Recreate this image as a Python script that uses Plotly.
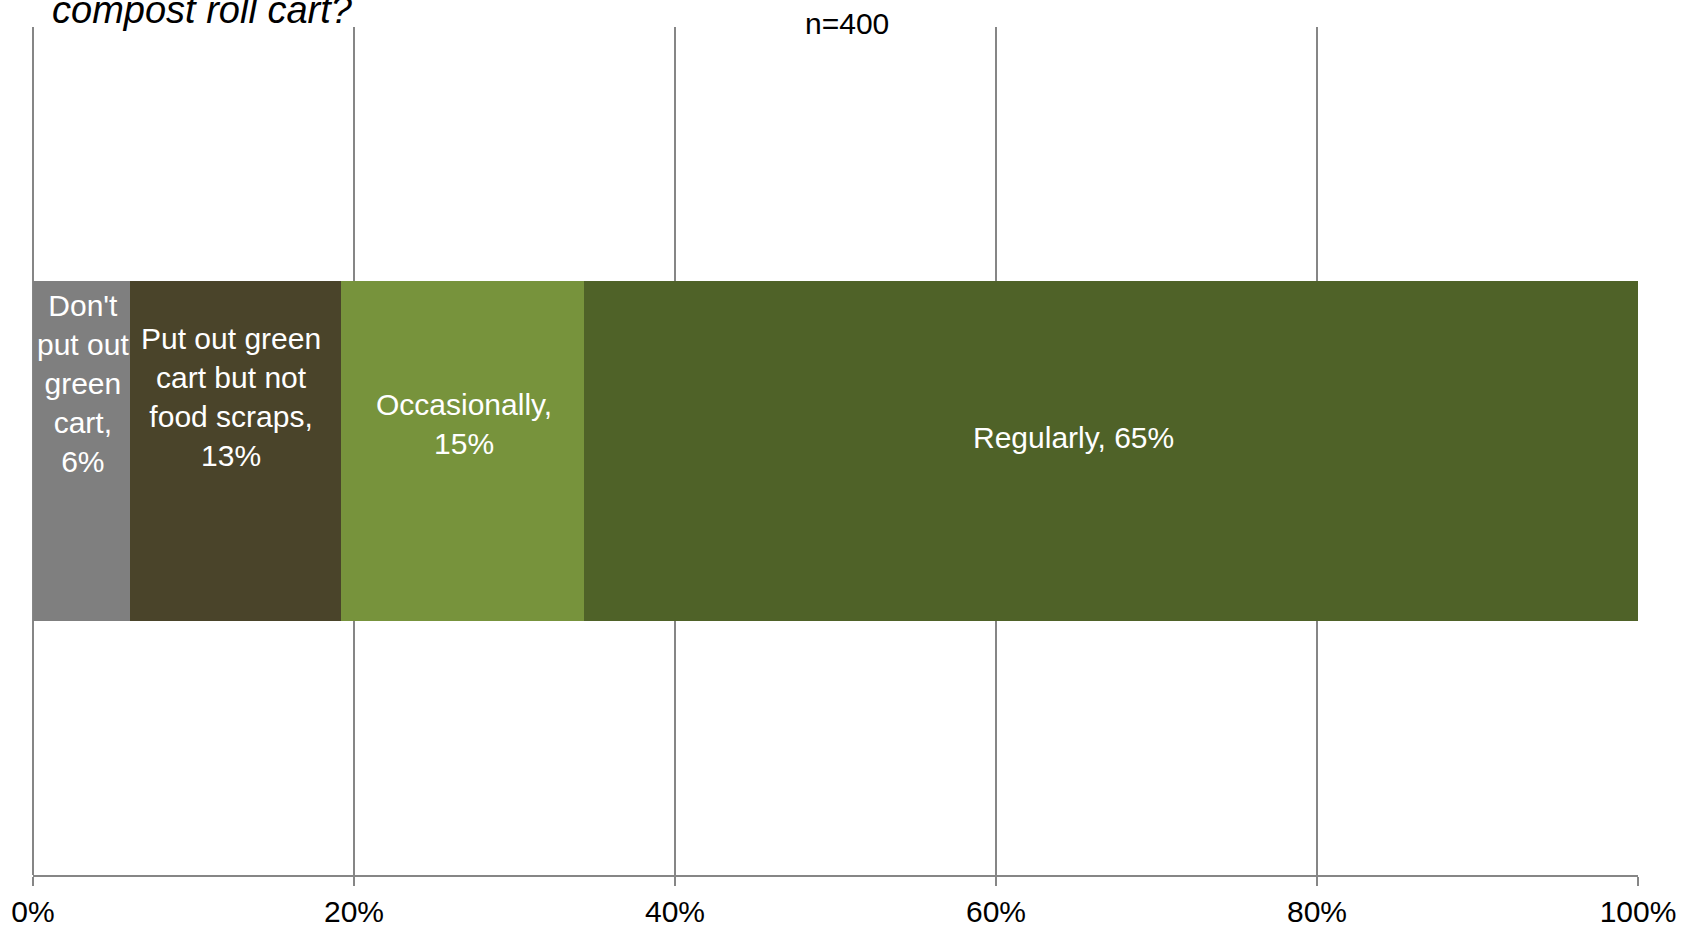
import plotly.graph_objects as go

# ---- data ----
categories = ["Don't put out green cart", "Put out green cart but not food scraps",
              "Occasionally", "Regularly"]
values = [6, 13, 15, 65]          # percent labels as shown
label_lines = [["Don't", "put out", "green", "cart,"],
               ["Put out green", "cart but not", "food scraps,"],
               ["Occasionally,"],
               ["Regularly,"]]
colors = ["#7f7f7f", "#4a442a", "#77933c", "#4f6228"]
tick_vals = [0, 20, 40, 60, 80, 100]
tick_text = ["0%", "20%", "40%", "60%", "80%", "100%"]
title_line = "compost roll cart?"
subtitle = "n=400"

FONT = "Liberation Sans, Arial, sans-serif"

W, H = 1692, 928
ml, mr, mt, mb = 33, 54, 27, 53
pw, ph = W - ml - mr, H - mt - mb


def px_to_paper(xp, yp):
    return (xp - ml) / pw, (H - mb - yp) / ph


fig = go.Figure()
for cat, v, c in zip(categories, values, colors):
    fig.add_trace(go.Bar(x=[v], y=[0], orientation="h", name=cat,
                         marker=dict(color=c, line=dict(width=0)),
                         hoverinfo="skip", showlegend=False))

# label annotations centred on each (normalised) segment
total = sum(values)
cum = 0.0
label_xshift = [1, -5, 1, -38]
for i, (v, lines) in enumerate(zip(values, label_lines)):
    pct = v / total * 100
    mid = cum + pct / 2
    cum += pct
    if i == 3:
        text = f"{lines[0]} {v}%"
        n = 1
    else:
        text = "<br>".join(lines + [f"{v}%"])
        n = len(lines) + 1
    fig.add_annotation(x=mid, y=0, xref="x", yref="y", text=text,
                       showarrow=False, xshift=label_xshift[i],
                       yshift=13.5 * n,
                       font=dict(family=FONT, size=30, color="white"),
                       align="center")

sx, sy = px_to_paper(847, 23.5)
fig.add_annotation(x=sx, y=sy, xref="paper", yref="paper", text=subtitle,
                   showarrow=False, xanchor="center", yanchor="middle",
                   font=dict(family=FONT, size=30, color="black"))

tx, ty = px_to_paper(50, 20)
fig.add_annotation(x=tx, y=ty, xref="paper", yref="paper", text=title_line,
                   showarrow=False, xanchor="left", yanchor="bottom", yshift=-13,
                   font=dict(family=FONT, size=38, color="black", style="italic"))

fig.update_layout(
    width=W, height=H,
    margin=dict(l=ml, r=mr, t=mt, b=mb, pad=0, autoexpand=False),
    barmode="stack", barnorm="percent", bargap=0.6,
    plot_bgcolor="white", paper_bgcolor="white",
    xaxis=dict(range=[0, 100], tickvals=tick_vals, ticktext=tick_text,
               automargin=False,
               showgrid=True, gridcolor="#868686", gridwidth=1.5,
               zeroline=True, zerolinecolor="#868686", zerolinewidth=1.5,
               showline=True, linecolor="#868686", linewidth=2,
               ticks="outside", ticklen=9, tickcolor="#868686", tickwidth=1.5,
               tickfont=dict(family=FONT, size=30, color="black"),
               fixedrange=True),
    yaxis=dict(visible=False, range=[-0.5, 0.5], fixedrange=True,
               automargin=False),
)

fig.write_html("out.html", config={"displayModeBar": False},
               post_script="document.body.style.margin='0';")
